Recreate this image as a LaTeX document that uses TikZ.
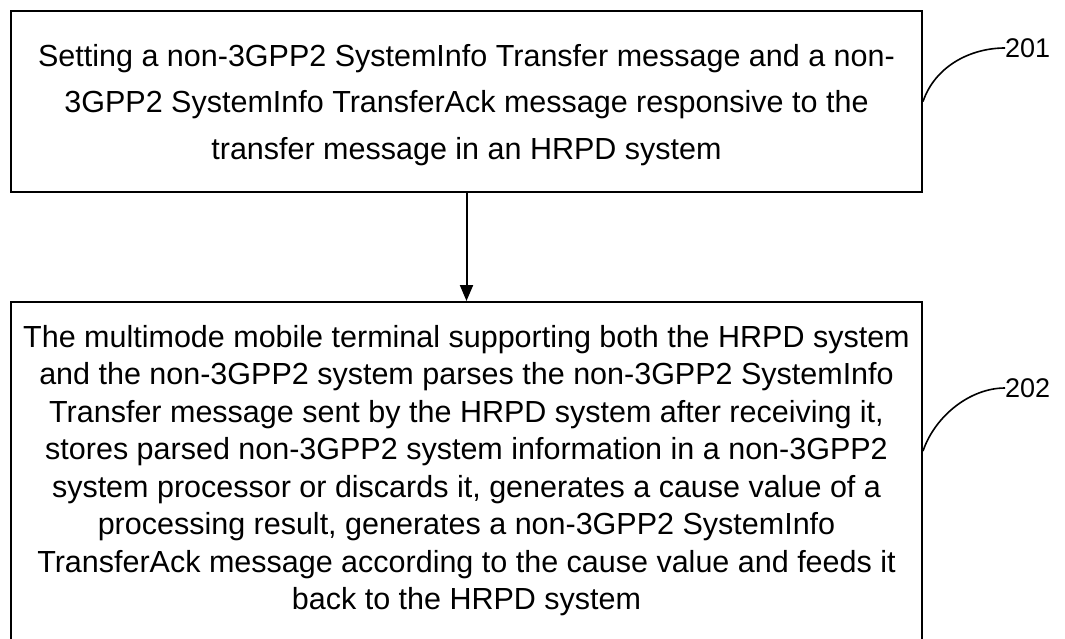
\documentclass[tikz,border=0pt]{standalone}
\usepackage{fontspec}
\setmainfont{Liberation Sans}
\usetikzlibrary{arrows.meta}
\begin{document}
\begin{tikzpicture}[x=1pt,y=-1pt,
  box/.style={draw, line width=2pt, minimum width=911pt, inner sep=0pt},
  boxtext/.style={align=center, inner sep=0pt, anchor=north},
  lab/.style={inner sep=0pt, anchor=west, font=\fontsize{27pt}{30pt}\selectfont},
  lead/.style={line width=1.6pt},
  arr/.style={line width=2pt, -{Triangle[width=13pt,length=16pt]}}]
\useasboundingbox (0,0) rectangle (1065,639);
\clip (0,0) rectangle (1065,639);
\node[box, minimum height=181pt] (b1) at (466.5,101.5) {};
\node[box, minimum height=400pt, anchor=north] (b2) at (466.5,301) {};
\node[boxtext, font=\fontsize{30.5pt}{46.5pt}\selectfont] (t1) at (466.5,44)
  {Setting a non-3GPP2 SystemInfo Transfer message and a non-\\
   3GPP2 SystemInfo TransferAck message responsive to the\\
   transfer message in an HRPD system};
\node[boxtext, font=\fontsize{30.5pt}{37.5pt}\selectfont] (t2) at (466.5,325)
  {The multimode mobile terminal supporting both the HRPD system\\
   and the non-3GPP2 system parses the non-3GPP2 SystemInfo\\
   Transfer message sent by the HRPD system after receiving it,\\
   stores parsed non-3GPP2 system information in a non-3GPP2\\
   system processor or discards it, generates a cause value of a\\
   processing result, generates a non-3GPP2 SystemInfo\\
   TransferAck message according to the cause value and feeds it\\
   back to the HRPD system};
\draw[arr] (b1.south) -- (b2.north);
\node[lab] (l1) at (1005,48) {201};
\node[lab] (l2) at (1005,388) {202};
\coordinate (a1) at (b1.east);
\coordinate (a2) at ([yshift=-150pt]b2.north east);
\draw[lead] (a1) .. controls +(12,-35) and +(-35,0) .. (l1.west);
\draw[lead] (a2) .. controls +(12,-35) and +(-35,0) .. (l2.west);
\end{tikzpicture}
\end{document}
